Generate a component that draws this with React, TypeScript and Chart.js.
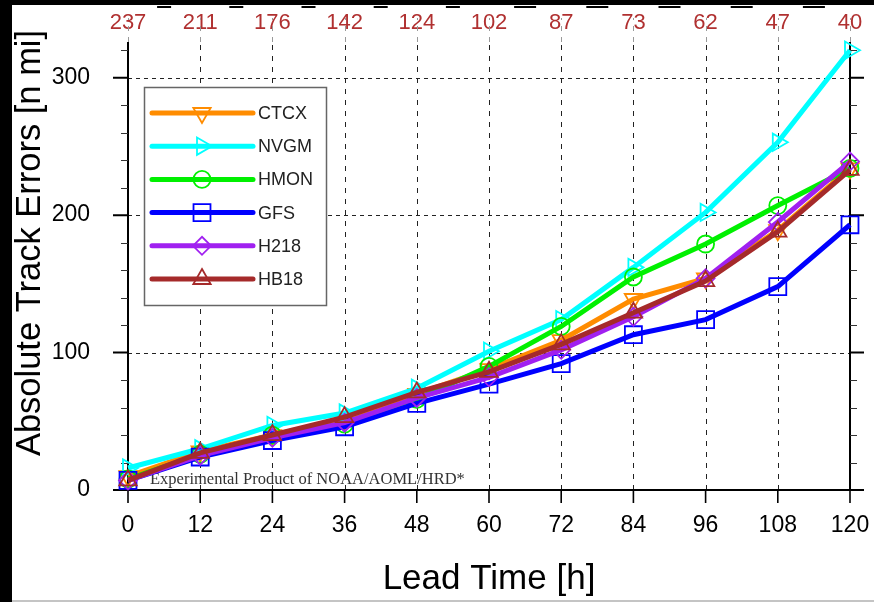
import React, { useEffect, useRef } from 'react';
import { Chart, registerables } from 'chart.js';
import { drawPoint } from 'chart.js/helpers';

Chart.register(...registerables);

// ---- data ----
const leadTimes = [0, 12, 24, 36, 48, 60, 72, 84, 96, 108, 120];
const caseCounts = [237, 211, 176, 142, 124, 102, 87, 73, 62, 47, 40];
const seriesNames = ['CTCX', 'NVGM', 'HMON', 'GFS', 'H218', 'HB18'];
const ctcx = [10, 28, 40, 51, 70, 88, 109, 139, 154, 189, 234];
const nvgm = [16, 30, 47, 56, 74, 101, 124, 162, 202, 253, 320];
const hmon = [8, 26, 40, 48, 66, 90, 119, 155, 179, 207, 234];
const gfs = [7, 24, 36, 46, 63, 77, 92, 113, 124, 148, 193];
const h218 = [7, 25, 38, 49, 67, 82, 102, 126, 154, 195, 239];
const hb18 = [7, 27, 40, 53, 71, 86, 106, 129, 152, 188, 233];
const yTickValues = [0, 100, 200, 300];
const yMinorStep = 20;
const yMax = 326;

const seriesValues = [ctcx, nvgm, hmon, gfs, h218, hb18];

// ---- styles ----
const seriesStyles = [
  { color: '#ff8c00', pointStyle: 'triangle', rotation: 180, radius: 10 },
  { color: '#00ffff', pointStyle: 'triangle', rotation: 90, radius: 10 },
  { color: '#00f000', pointStyle: 'circle', rotation: 0, radius: 8.5 },
  { color: '#0000ff', pointStyle: 'rect', rotation: 0, radius: 12 },
  { color: '#a020f0', pointStyle: 'rectRot', rotation: 0, radius: 9 },
  { color: '#a52a2a', pointStyle: 'triangle', rotation: 0, radius: 10 },
];

const SANS = '"Liberation Sans", Arial, Helvetica, sans-serif';
const SERIF = '"Liberation Serif", "Times New Roman", serif';

const framePlugin = {
  id: 'ncl-frame',
  beforeDatasetsDraw(chart: any) {
    const { ctx, chartArea } = chart;
    const { left, right, top, bottom } = chartArea;
    const xs = chart.scales.x;
    const ys = chart.scales.y;
    ctx.save();

    // remnant dashes along the top edge (cropped frame above)
    ctx.fillStyle = '#000';
    for (let i = 0; i < leadTimes.length - 1; i++) {
      const mid = (xs.getPixelForValue(leadTimes[i]) + xs.getPixelForValue(leadTimes[i + 1])) / 2;
      const len = i < 5 ? 14 : 22;
      ctx.fillRect(mid - len / 2, 1, len, 2);
    }

    // vertical dashed grid
    ctx.strokeStyle = '#222';
    ctx.lineWidth = 1;
    ctx.setLineDash([5, 6]);
    leadTimes.forEach((v) => {
      const px = Math.round(xs.getPixelForValue(v)) + 0.5;
      ctx.beginPath();
      ctx.moveTo(px, bottom);
      ctx.lineTo(px, top);
      ctx.stroke();
    });
    // faint extension up through count labels
    ctx.strokeStyle = '#999';
    leadTimes.forEach((v) => {
      const px = Math.round(xs.getPixelForValue(v)) + 0.5;
      ctx.beginPath();
      ctx.moveTo(px, top);
      ctx.lineTo(px, top - 24);
      ctx.stroke();
    });
    // horizontal dashed grid
    ctx.strokeStyle = '#222';
    ctx.setLineDash([4, 4]);
    yTickValues.forEach((v) => {
      if (v === 0) return;
      const py = Math.round(ys.getPixelForValue(v)) + 0.5;
      ctx.beginPath();
      ctx.moveTo(left, py);
      ctx.lineTo(right, py);
      ctx.stroke();
    });
    ctx.setLineDash([]);

    // axes
    ctx.strokeStyle = '#000';
    ctx.lineWidth = 2;
    ctx.beginPath();
    ctx.moveTo(left, top);
    ctx.lineTo(left, bottom);
    ctx.moveTo(right, top);
    ctx.lineTo(right, bottom);
    ctx.moveTo(left, bottom);
    ctx.lineTo(right, bottom);
    ctx.stroke();

    // y major ticks (outward both sides)
    yTickValues.forEach((v) => {
      const py = ys.getPixelForValue(v);
      ctx.beginPath();
      ctx.moveTo(left - 15, py);
      ctx.lineTo(left, py);
      ctx.moveTo(right, py);
      ctx.lineTo(right + 14, py);
      ctx.stroke();
    });
    // y minor ticks
    ctx.lineWidth = 1.2;
    ctx.strokeStyle = '#333';
    for (let v = 0; v <= yMax; v += yMinorStep) {
      if (yTickValues.includes(v)) continue;
      const py = Math.round(ys.getPixelForValue(v)) + 0.5;
      ctx.beginPath();
      ctx.moveTo(left - 7, py);
      ctx.lineTo(left, py);
      ctx.moveTo(right, py);
      ctx.lineTo(right + 7, py);
      ctx.stroke();
    }
    // x ticks
    ctx.strokeStyle = '#000';
    ctx.lineWidth = 1.6;
    leadTimes.forEach((v) => {
      const px = xs.getPixelForValue(v);
      ctx.beginPath();
      ctx.moveTo(px, bottom);
      ctx.lineTo(px, bottom + 13);
      ctx.stroke();
    });

    // watermark
    ctx.fillStyle = '#333';
    ctx.font = `16.5px ${SERIF}`;
    ctx.textAlign = 'left';
    ctx.textBaseline = 'middle';
    ctx.fillText('Experimental Product of NOAA/AOML/HRD*', left + 22, bottom - 10);

    // y title
    ctx.save();
    ctx.translate(18, 238);
    ctx.rotate(-Math.PI / 2);
    ctx.fillStyle = '#000';
    ctx.font = `34.5px ${SANS}`;
    ctx.textAlign = 'center';
    ctx.textBaseline = 'middle';
    ctx.fillText('Absolute Track Errors [n mi]', 0, 0);
    ctx.restore();

    ctx.restore();
  },
  afterDatasetsDraw(chart: any) {
    const { ctx, chartArea } = chart;
    const bx = chartArea.left + 16;
    const by = chartArea.top + 45;
    const bw = 182;
    const bh = 218;
    ctx.save();
    ctx.fillStyle = '#fff';
    ctx.fillRect(bx, by, bw, bh);
    ctx.strokeStyle = '#666';
    ctx.lineWidth = 1.5;
    ctx.strokeRect(bx + 0.5, by + 0.5, bw, bh);
    chart.data.datasets.forEach((ds: any, i: number) => {
      const st = seriesStyles[i];
      const ry = by + 26 + i * 33.2;
      ctx.strokeStyle = st.color;
      ctx.lineWidth = 5;
      ctx.lineCap = 'round';
      ctx.beginPath();
      ctx.moveTo(bx + 8, ry);
      ctx.lineTo(bx + 109, ry);
      ctx.stroke();
      ctx.lineWidth = 1.8;
      ctx.fillStyle = 'rgba(0,0,0,0)';
      drawPoint(ctx, { pointStyle: st.pointStyle, rotation: st.rotation, radius: st.radius, borderWidth: 1.8 } as any, bx + 58, ry);
      ctx.fillStyle = '#222';
      ctx.font = `18px ${SANS}`;
      ctx.textAlign = 'left';
      ctx.textBaseline = 'middle';
      ctx.fillText(ds.label, bx + 114, ry + 1);
    });
    ctx.restore();
  },
};

export default function App() {
  const canvasRef = useRef<HTMLCanvasElement | null>(null);

  useEffect(() => {
    const canvas = canvasRef.current;
    if (!canvas) return;
    const datasets = seriesNames.map((name, i) => {
      const st = seriesStyles[i];
      return {
        label: name,
        data: leadTimes.map((t, j) => ({ x: t, y: seriesValues[i][j] })),
        borderColor: st.color,
        backgroundColor: 'rgba(0,0,0,0)',
        borderWidth: 5,
        pointStyle: st.pointStyle,
        pointRotation: st.rotation,
        pointRadius: st.radius,
        pointBorderWidth: 1.8,
        pointBorderColor: st.color,
        pointBackgroundColor: 'rgba(0,0,0,0)',
        tension: 0,
        clip: false,
        order: seriesNames.length - 1 - i,
      };
    });
    const fixH = (h: number) => (s: any) => {
      s.height = h;
      s.paddingLeft = 0;
      s.paddingRight = 0;
      s.paddingTop = 0;
      s.paddingBottom = 0;
    };
    const chart = new Chart(canvas, {
      type: 'line',
      data: { datasets } as any,
      options: {
        responsive: false,
        animation: false,
        devicePixelRatio: 1,
        layout: { padding: { left: 0, right: 24, top: 0, bottom: 0 } },
        plugins: { legend: { display: false }, tooltip: { enabled: false } },
        scales: {
          x: {
            type: 'linear',
            position: 'bottom',
            min: 0,
            max: 120,
            afterFit: fixH(110),
            grid: { display: false, drawTicks: false },
            border: { display: false },
            ticks: {
              stepSize: 12,
              autoSkip: false,
              maxRotation: 0,
              padding: 22,
              color: '#000',
              font: { family: SANS, size: 23 },
            },
            title: {
              display: true,
              text: 'Lead Time [h]',
              color: '#000',
              font: { family: SANS, size: 35 },
              padding: { top: 0, bottom: 0 },
            },
          },
          x2: {
            type: 'linear',
            position: 'top',
            min: 0,
            max: 120,
            afterFit: fixH(37),
            grid: { display: false, drawTicks: false },
            border: { display: false },
            ticks: {
              stepSize: 12,
              autoSkip: false,
              maxRotation: 0,
              padding: 6,
              color: '#b03030',
              font: { family: SANS, size: 22 },
              callback: (v: any) => {
                const k = leadTimes.indexOf(Number(v));
                return k >= 0 ? String(caseCounts[k]) : '';
              },
            },
          },
          y: {
            type: 'linear',
            min: 0,
            max: yMax,
            afterFit: (s: any) => {
              s.width = 116;
              s.paddingTop = 0;
              s.paddingBottom = 0;
              s.paddingLeft = 0;
              s.paddingRight = 0;
            },
            afterBuildTicks: (s: any) => { s.ticks = yTickValues.map((v) => ({ value: v })); },
            grid: { display: false, drawTicks: false },
            border: { display: false },
            ticks: {
              stepSize: 100,
              includeBounds: false,
              padding: 38,
              color: '#000',
              font: { family: SANS, size: 23 },
            },
          },
        },
      } as any,
      plugins: [framePlugin],
    });
    return () => chart.destroy();
  }, []);

  return (
    <div style={{ position: 'fixed', left: 0, top: 0, width: 874, height: 602, background: '#000', overflow: 'hidden' }}>
      <div style={{ position: 'absolute', left: 12, top: 5, width: 862, height: 595, background: '#fff' }}>
        <canvas ref={canvasRef} width={862} height={595} style={{ display: 'block', width: 862, height: 595 }} />
      </div>
      <div style={{ position: 'absolute', left: 12, top: 600, width: 862, height: 2, background: '#c4c4c4' }} />
    </div>
  );
}
